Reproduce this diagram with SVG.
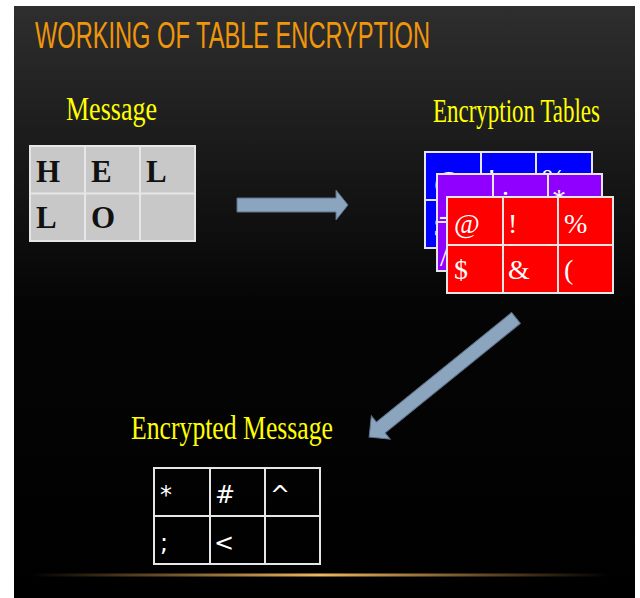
<svg xmlns="http://www.w3.org/2000/svg" width="640" height="598" viewBox="0 0 640 598">
<defs>
<linearGradient id="bg" x1="0" y1="0" x2="0" y2="1">
<stop offset="0" stop-color="#2e2e2e"/>
<stop offset="0.5" stop-color="#050505"/>
<stop offset="1" stop-color="#000"/>
</linearGradient>
<radialGradient id="glow" cx="0.5" cy="1" r="0.5">
<stop offset="0" stop-color="#4a4a4a"/>
<stop offset="1" stop-color="#4a4a4a" stop-opacity="0"/>
</radialGradient>
<linearGradient id="line" x1="0" y1="0" x2="1" y2="0">
<stop offset="0" stop-color="#e0a050" stop-opacity="0"/>
<stop offset="0.5" stop-color="#f0b860"/>
<stop offset="1" stop-color="#e0a050" stop-opacity="0"/>
</linearGradient>
<style>
.title{font-family:"Liberation Sans",Arial,sans-serif;font-size:37px;fill:#f0960a}
.lbl{font-family:"Liberation Serif","Times New Roman",serif;fill:#ffff00}
.grid{fill:none;stroke:#e6e6e6;stroke-width:2}
.msg{font-family:"Liberation Serif","Times New Roman",serif;font-weight:bold;font-size:31px;fill:#111}
.enc{font-family:"Liberation Serif","Times New Roman",serif;font-size:28px;fill:#fff}
.out{font-family:"DejaVu Sans",Verdana,sans-serif;font-size:24px;fill:#fff}
.arrow{fill:#8ca5bf;stroke:#5d7189;stroke-width:1}
</style>
</defs>
<rect x="0" y="0" width="640" height="598" fill="#fff"/>
<rect x="14" y="6" width="621" height="592" fill="url(#bg)"/>
<ellipse cx="330" cy="575" rx="230" ry="70" fill="url(#glow)"/>
<rect x="14" y="576" width="621" height="22" fill="#000"/>
<rect x="30" y="573.5" width="580" height="3" fill="url(#line)"/>

<text class="title" x="35" y="48" textLength="395" lengthAdjust="spacingAndGlyphs">WORKING OF TABLE ENCRYPTION</text>

<g id="message">
<text class="lbl" x="66" y="120" font-size="34" textLength="91" lengthAdjust="spacingAndGlyphs">Message</text>
<rect x="30" y="146" width="165" height="95" fill="#c8c8c8"/>
<path class="grid" d="M30 146H195V241H30Z M30 193.5H195 M85 146V241 M140 146V241"/>
<text class="msg" x="36" y="182">H</text>
<text class="msg" x="91" y="182">E</text>
<text class="msg" x="146" y="182">L</text>
<text class="msg" x="36" y="228">L</text>
<text class="msg" x="91" y="228">O</text>
</g>

<g id="encryption-tables">
<text class="lbl" x="433" y="122" font-size="33" textLength="167" lengthAdjust="spacingAndGlyphs">Encryption Tables</text>
<g id="table-blue">
<rect x="425" y="152" width="167" height="96" fill="#0000ff"/>
<path class="grid" d="M425 152H592V248H425Z M425 200H592 M481 152V248 M536 152V248"/>
<text class="enc" x="434" y="190">@</text>
<text class="enc" x="487" y="188">!</text>
<text class="enc" x="542" y="188">%</text>
<text class="enc" x="434" y="236">$</text>
</g>
<g id="table-purple">
<rect x="437" y="174" width="165" height="97" fill="#9000ff"/>
<path class="grid" d="M437 174H602V271H437Z M437 222H602 M493 174V271 M548 174V271"/>
<text class="enc" x="439" y="224">-</text>
<text class="enc" x="502" y="195">.</text>
<text class="enc" x="552" y="208">*</text>
<text class="enc" x="440" y="266">/</text>
</g>
<g id="table-red">
<rect x="447" y="197" width="166" height="96" fill="#ff0000"/>
<path class="grid" d="M447 197H613V293H447Z M447 245H613 M503 197V293 M558 197V293"/>
<text class="enc" x="454" y="233">@</text>
<text class="enc" x="508" y="233">!</text>
<text class="enc" x="564" y="233">%</text>
<text class="enc" x="454" y="279">$</text>
<text class="enc" x="508" y="279">&amp;</text>
<text class="enc" x="564" y="279">(</text>
</g>
</g>

<g id="encrypted-message">
<text class="lbl" x="131" y="439" font-size="34" textLength="202" lengthAdjust="spacingAndGlyphs">Encrypted Message</text>
<path class="grid" d="M154 468H320V564H154Z M154 516H320 M210 468V564 M265 468V564"/>
<text class="out" x="160" y="503">*</text>
<text class="out" x="215" y="503">#</text>
<text class="out" x="270" y="503">^</text>
<text class="out" x="160" y="551">;</text>
<text class="out" x="214" y="551">&lt;</text>
</g>

<g id="connectors">
<polygon class="arrow" points="237,198 336,198 336,190 348,205 336,220 336,212 237,212"/>
<polygon class="arrow" transform="translate(516,318) rotate(141)" points="0,-7 174,-7 174,-15 189,0 174,15 174,7 0,7"/>
</g>
</svg>
